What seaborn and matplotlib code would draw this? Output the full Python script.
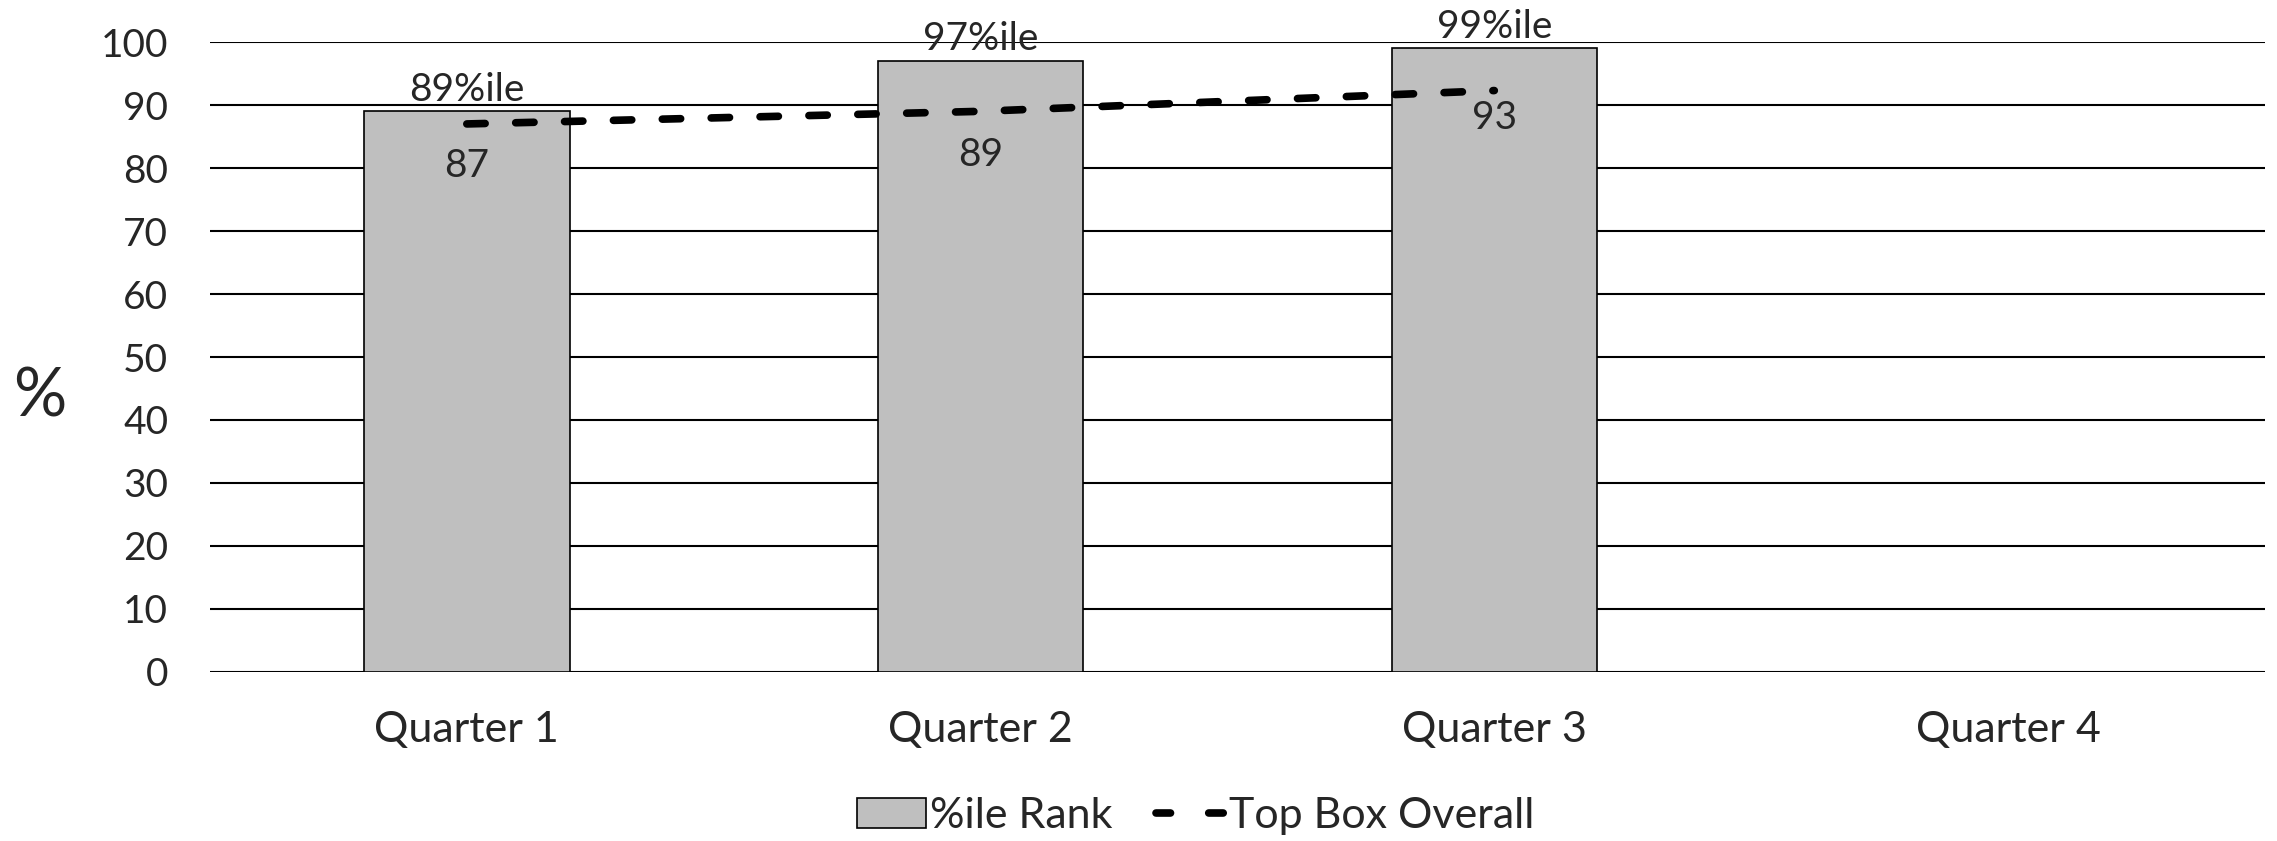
import matplotlib
matplotlib.use("Agg")
import matplotlib.pyplot as plt
import seaborn as sns
import numpy as np
import pandas as pd
from matplotlib.patches import Patch
from matplotlib.lines import Line2D

categories = ["Quarter 1", "Quarter 2", "Quarter 3", "Quarter 4"]
rank_values = [89, 97, 99, np.nan]
rank_labels = ["89%ile", "97%ile", "99%ile", ""]
topbox_values = [87, 89, 92.3]
topbox_labels = ["87", "89", "93"]
yticks = [0, 10, 20, 30, 40, 50, 60, 70, 80, 90, 100]

sns.set_theme(style="white")
plt.rcParams['font.family'] = ['Lato', 'DejaVu Sans']

fig = plt.figure(figsize=(22.77, 8.41), dpi=100)
ax = fig.add_axes([0.0922, 0.201, 0.9025, 0.749])

df = pd.DataFrame({"Quarter": categories, "Rank": rank_values})
sns.barplot(data=df, x="Quarter", y="Rank", order=categories, color="#BFBFBF",
            saturation=1, width=0.4, edgecolor="black", linewidth=1.2, ax=ax, zorder=2)

line_df = pd.DataFrame({"pos": np.arange(len(topbox_values)), "val": topbox_values})
sns.lineplot(data=line_df, x="pos", y="val", color="black", linewidth=5.5, ax=ax, zorder=3,
             dashes=False)
ln = ax.lines[-1]
ln.set_dashes([2.4, 4.0])
ln.set_dash_capstyle('round')

ax.set_ylim(0, 100)
ax.set_xlim(-0.5, 3.5)
ax.set_yticks(yticks)
ax.yaxis.grid(True, color="black", linewidth=1.5)
ax.set_axisbelow(True)
for s in ax.spines.values():
    s.set_visible(False)
ax.tick_params(axis="both", length=0)
ax.tick_params(axis="x", pad=28, labelsize=31)
ax.tick_params(axis="y", pad=30, labelsize=28)
ax.set_xlabel("")
ax.set_ylabel("%", rotation=0, fontsize=48, va="center", ha="center")
ax.yaxis.set_label_coords(-0.083, 0.435)

for i, (v, lab) in enumerate(zip(rank_values, rank_labels)):
    if lab:
        ax.text(i, v + 0.6, lab, ha="center", va="bottom", fontsize=28, clip_on=False)
label_gap = [6.7, 6.9, 4.3]
for i, (v, lab) in enumerate(zip(topbox_values, topbox_labels)):
    ax.text(i, v - label_gap[i], lab, ha="center", va="center", fontsize=28)

handles = [Patch(facecolor="#BFBFBF", edgecolor="black", linewidth=1.2, label="%ile Rank"),
           Line2D([0], [0], color="black", linewidth=5.5, linestyle=(0, (1.9, 5.0)),
                  dash_capstyle='round', label="Top Box Overall")]
fig.legend(handles=handles, loc="center", bbox_to_anchor=(0.525, 0.03), ncol=2,
           frameon=False, fontsize=31, handlelength=1.6, handletextpad=0.1,
           columnspacing=1.0)

fig.savefig("out.png", dpi=100)
